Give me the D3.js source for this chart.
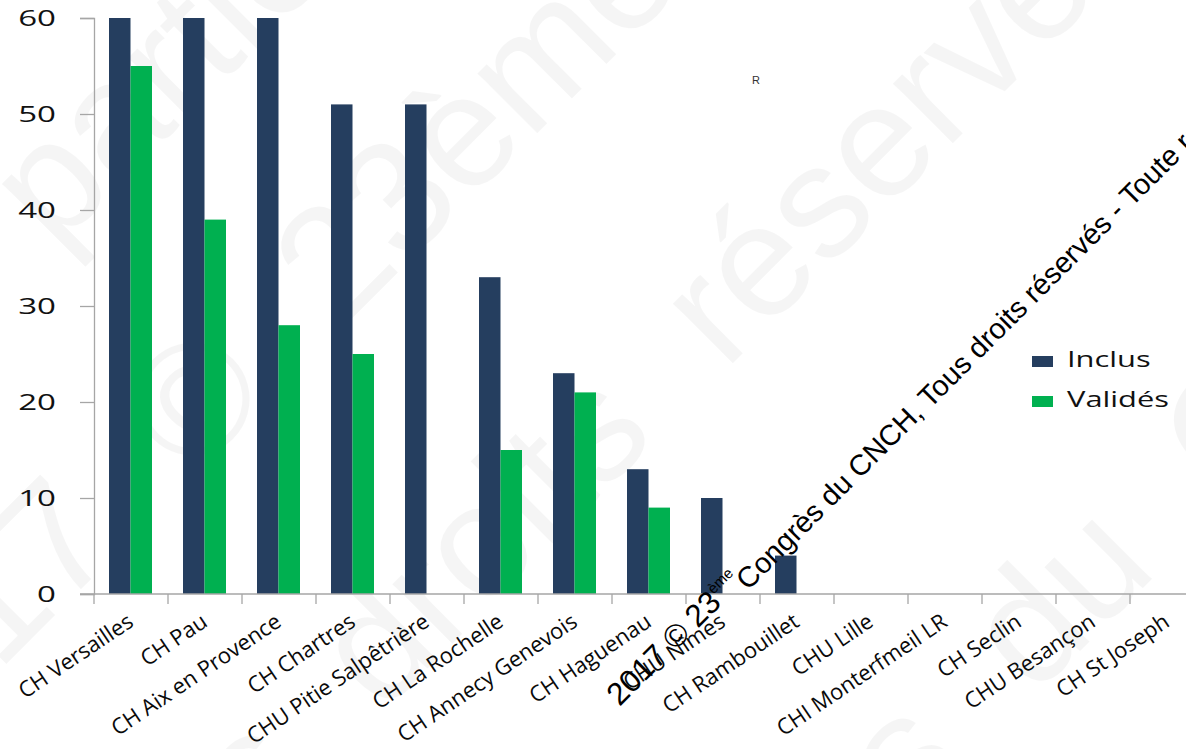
<!DOCTYPE html>
<html lang="fr">
<head>
<meta charset="UTF-8">
<title>Inclus / Validés par centre</title>
<script src="https://cdn.jsdelivr.net/npm/d3@7/dist/d3.min.js"></script>
<style>
  html, body { margin: 0; padding: 0; background: #fff; }
  svg { display: block; }
  text { font-family: "Open Sans", sans-serif; fill: #111; }
  .wm text, text.wm { font-family: "Liberation Sans", Arial, sans-serif; }
</style>
</head>
<body>
<div id="chart"></div>
<script>
// données
var centres = ["CH Versailles", "CH Pau", "CH Aix en Provence", "CH Chartres",
  "CHU Pitie Salpêtrière", "CH La Rochelle", "CH Annecy Genevois", "CH Haguenau",
  "CHU Nîmes", "CH Rambouillet", "CHU Lille", "CHI Monterfmeil LR", "CH Seclin",
  "CHU Besançon", "CH St Joseph"];
var inclus  = [60, 60, 60, 51, 51, 33, 23, 13, 10, 4, 0, 0, 0, 0, 0];
var valides = [55, 39, 28, 25, 0, 15, 21, 9, 0, 0, 0, 0, 0, 0, 0];
var series = ["Inclus", "Validés"];
var yTicks = [0, 10, 20, 30, 40, 50, 60];

var W = 1186, H = 749;
var sx = 1.47; // chiffres et légende très larges dans l'original
var colors = { "Inclus": "#253e5f", "Validés": "#00b050" };

var svg = d3.select("#chart").append("svg")
    .attr("width", W).attr("height", H);

// filigrane clair en arrière-plan (repère tourné de -45°)
var bg = svg.append("g").attr("class", "wm")
    .attr("transform", "rotate(-45)")
    .attr("fill-opacity", 0.04)
    .attr("font-size", 160)
    .attr("word-spacing", 50);
var bgLines = [
  { u: -1662, v: 216, t: "reproduction même partielle est interdite" },
  { u: -655, v: 474, t: "2017 © 23ème Congrès du CNCH" },
  { u: -1266, v: 775, t: "CNCH, Tous droits réservés - Toute" },
  { u: -461, v: 1224, t: "Congrès du CNCH, Tous" }
];
bg.selectAll("text").data(bgLines).enter().append("text")
    .attr("x", function (d) { return d.u; })
    .attr("y", function (d) { return d.v; })
    .style("fill", "#000")
    .text(function (d) { return d.t; });

var x = d3.scaleBand().domain(centres).range([94, 94 + 74 * centres.length]);
var xs = d3.scaleBand().domain(series).range([15, 58]);
var y = d3.scaleLinear().domain([0, 60]).range([594, 18]);

var axisColor = "#a6a6a6";

// barres
var rows = centres.map(function (c, i) {
  return { centre: c, values: [{ s: "Inclus", v: inclus[i] }, { s: "Validés", v: valides[i] }] };
});
var groups = svg.append("g").selectAll("g").data(rows).enter().append("g")
    .attr("transform", function (d) { return "translate(" + x(d.centre) + ",0)"; });
groups.selectAll("rect").data(function (d) { return d.values; }).enter().append("rect")
    .attr("x", function (d) { return xs(d.s); })
    .attr("width", xs.bandwidth())
    .attr("y", function (d) { return y(d.v); })
    .attr("height", function (d) { return y(0) - y(d.v); })
    .attr("fill", function (d) { return colors[d.s]; });

// axe Y
var yAxis = svg.append("g").attr("transform", "translate(94,0)")
    .call(d3.axisLeft(y).tickValues(yTicks).tickSize(14).tickFormat(""));
yAxis.select(".domain").attr("stroke", axisColor).attr("stroke-width", 1.3);
yAxis.selectAll(".tick line").attr("stroke", axisColor).attr("stroke-width", 1.3);

svg.append("g").selectAll("text").data(yTicks).enter().append("text")
    .attr("transform", function (d) { return "translate(56," + y(d) + ") scale(" + sx + ",1)"; })
    .attr("text-anchor", "end").attr("dy", "0.36em")
    .attr("font-size", 22.5)
    .text(function (d) { return d; });

// axe X
svg.append("line").attr("x1", 80).attr("x2", W).attr("y1", y(0)).attr("y2", y(0))
    .attr("stroke", axisColor).attr("stroke-width", 1.3);
svg.append("g").selectAll("line").data(centres).enter().append("line")
    .attr("x1", function (d) { return x(d); }).attr("x2", function (d) { return x(d); })
    .attr("y1", y(0)).attr("y2", y(0) + 10)
    .attr("stroke", axisColor).attr("stroke-width", 1.3);

svg.append("g").selectAll("text").data(centres).enter().append("text")
    .attr("transform", function (d) {
      return "translate(" + (x(d) + x.bandwidth() / 2 - 5) + ",612) rotate(-34)";
    })
    .attr("text-anchor", "end").attr("dy", "0.72em")
    .attr("font-size", 22)
    .style("fill", "#0a0a0a")
    .text(function (d) { return d; });

// légende
var leg = svg.append("g").selectAll("g").data(series).enter().append("g")
    .attr("transform", function (d, i) { return "translate(1032," + (356 + i * 40) + ")"; });
leg.append("rect").attr("width", 21).attr("height", 11)
    .attr("fill", function (d) { return colors[d]; });
leg.append("text")
    .attr("transform", "translate(35,11) scale(" + sx + ",1)")
    .attr("font-size", 21)
    .text(function (d) { return d; });

// petit R
svg.append("text").attr("class", "wm").attr("x", 752).attr("y", 84)
    .attr("font-size", 11).style("fill", "#333").text("R");

// filigrane noir (repère tourné de -45°)
var wm = svg.append("g").attr("class", "wm").attr("transform", "rotate(-45)");
wm.append("text").attr("x", -62).attr("y", 938).attr("font-size", 31.5)
    .style("fill", "#000").text("2017 © 23");
wm.append("text").attr("x", 84).attr("y", 925).attr("font-size", 15)
    .style("fill", "#000").text("ème");
wm.append("text").attr("x", 111).attr("y", 947).attr("font-size", 29)
    .style("fill", "#000")
    .text("Congrès du CNCH, Tous droits réservés - Toute reproduction interdite");
</script>
</body>
</html>
